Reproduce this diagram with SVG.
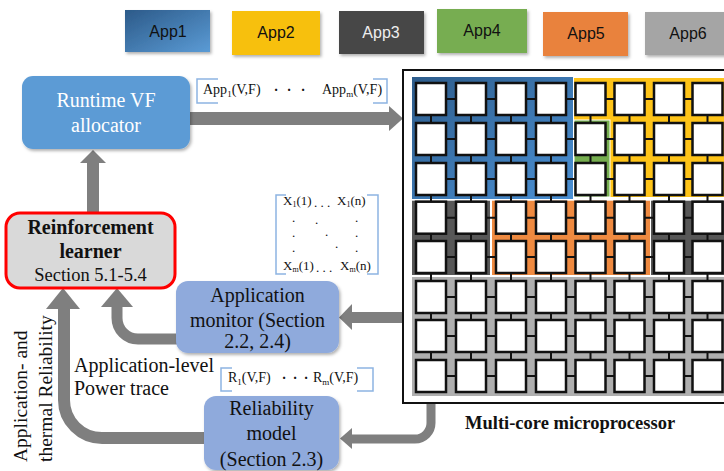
<svg xmlns="http://www.w3.org/2000/svg" xmlns:xlink="http://www.w3.org/1999/xlink" width="724" height="471" viewBox="0 0 724 471">
<style>
.serif{font-family:"Liberation Serif","Times New Roman",serif;}
.sans{font-family:"Liberation Sans",Arial,sans-serif;}
.box20{font-size:20px;text-anchor:middle;}
.lbl{font-size:14px;fill:#111;}
.dot{font-size:14px;fill:#111;font-weight:bold;text-anchor:middle;}
.mx{font-size:13px;fill:#111;}
.brk{fill:none;stroke:#8db4e2;stroke-width:1.5;}
.shaft{fill:none;stroke:#7f7f7f;}
.head{fill:#7f7f7f;}
.leg{font-size:16px;text-anchor:middle;}
</style>
<defs>
<linearGradient id="blue" x1="0" y1="0" x2="1" y2="1">
<stop offset="0" stop-color="#2c5a89"/>
<stop offset="1" stop-color="#5b9bd5"/>
</linearGradient>
<linearGradient id="blue2" x1="0" y1="0" x2="1" y2="1">
<stop offset="0" stop-color="#2e5d8c"/>
<stop offset="1" stop-color="#4a90d4"/>
</linearGradient>
<filter id="sh" x="-10%" y="-10%" width="130%" height="130%">
<feDropShadow dx="1.5" dy="2" stdDeviation="1.5" flood-color="#000" flood-opacity="0.3"/>
</filter>
<rect id="core" width="30" height="32" fill="#fff" stroke="#111" stroke-width="2.5"/>
</defs>

<g id="legend">
<g id="app1"><rect x="125" y="10" width="85" height="42" fill="url(#blue)" filter="url(#sh)"/><text class="sans leg" x="168" y="37" fill="#111">App1</text></g>
<g id="app2"><rect x="232" y="11" width="88" height="44" fill="#f7c010" filter="url(#sh)"/><text class="sans leg" x="276" y="38" fill="#111">App2</text></g>
<g id="app3"><rect x="339" y="11" width="85" height="43" fill="#464646" filter="url(#sh)"/><text class="sans leg" x="381" y="38" fill="#eeeeee">App3</text></g>
<g id="app4"><rect x="437" y="9" width="90" height="44" fill="#77ad51" filter="url(#sh)"/><text class="sans leg" x="482" y="36" fill="#111">App4</text></g>
<g id="app5"><rect x="543" y="12" width="85" height="44" fill="#e9823e" filter="url(#sh)"/><text class="sans leg" x="586" y="39" fill="#111">App5</text></g>
<g id="app6"><rect x="645" y="12" width="90" height="43" fill="#a5a5a5" filter="url(#sh)"/><text class="sans leg" x="688" y="39" fill="#111">App6</text></g>
</g>

<g id="connectors">
<rect x="190" y="112" width="200" height="13" fill="#7f7f7f"/>
<polygon class="head" points="389,106 403,118.5 389,131"/>
<rect x="87" y="162" width="12" height="51" fill="#7f7f7f"/>
<polygon class="head" points="80,163 93,150 106,163"/>
<rect x="351" y="312" width="52" height="11" fill="#7f7f7f"/>
<polygon class="head" points="352,304 339,317.5 352,330"/>
<path class="shaft" stroke-width="11" d="M177 339 H138 A21 21 0 0 1 117 318 V305"/>
<polygon class="head" points="101,307 117,288 133,307"/>
<path class="shaft" stroke-width="12" d="M205 438 H102 A38 38 0 0 1 64 400 V307"/>
<polygon class="head" points="46,309 63,288 80,309"/>
<path class="shaft" stroke-width="9" d="M431 403 V423 A16 16 0 0 1 415 439 H351"/>
<polygon class="head" points="352,428 340,438.5 352,449"/>
</g>

<g id="allocator">
<rect x="22" y="76" width="168" height="73" rx="11" fill="#5b9bd5" filter="url(#sh)"/>
<text class="serif box20" x="106" y="107" fill="#fff">Runtime VF</text>
<text class="serif box20" x="106" y="132" fill="#fff">allocator</text>
</g>

<g id="learner">
<rect x="6" y="213" width="169" height="75" rx="14" fill="#d9d9d9" stroke="#ff0000" stroke-width="3"/>
<text class="serif box20" x="90.5" y="234" font-weight="bold" fill="#111">Reinforcement</text>
<text class="serif box20" x="90.5" y="258" font-weight="bold" fill="#111">learner</text>
<text class="serif" x="90.5" y="281" font-size="18.5" text-anchor="middle" fill="#111">Section 5.1-5.4</text>
</g>

<g id="monitor">
<rect x="176" y="281" width="163" height="72" rx="12" fill="#8faadc" filter="url(#sh)"/>
<text class="serif box20" x="257.5" y="302" fill="#111">Application</text>
<text class="serif box20" x="257.5" y="327" fill="#111">monitor (Section</text>
<text class="serif box20" x="257.5" y="348" fill="#111">2.2, 2.4)</text>
</g>

<g id="reliability">
<rect x="204" y="396" width="135" height="74" rx="12" fill="#8faadc" filter="url(#sh)"/>
<text class="serif box20" x="271.5" y="415" fill="#111">Reliability</text>
<text class="serif box20" x="271.5" y="440" fill="#111">model</text>
<text class="serif box20" x="271.5" y="466" fill="#111">(Section 2.3)</text>
</g>

<g id="labels">
<path class="brk" d="M218 79 H197 V103 H218 M373 79 H387 V103 H373"/>
<text class="serif lbl" x="203" y="94">App<tspan font-size="9" dy="3">1</tspan><tspan dy="-3">(V,F)</tspan></text>
<text class="serif dot" x="276" y="95">·</text>
<text class="serif dot" x="289" y="95">·</text>
<text class="serif dot" x="303" y="95">·</text>
<text class="serif lbl" x="322" y="94">App<tspan font-size="9" dy="3">m</tspan><tspan dy="-3">(V,F)</tspan></text>

<path class="brk" d="M286 195 H276 V274 H286 M367 195 H378 V274 H367"/>
<text class="serif mx" x="283" y="205">X<tspan font-size="8" dy="2">1</tspan><tspan dy="-2">(1)</tspan></text>
<text class="serif mx" x="314" y="207">. . .</text>
<text class="serif mx" x="337" y="205">X<tspan font-size="8" dy="2">1</tspan><tspan dy="-2">(n)</tspan></text>
<text class="serif mx" x="292" y="222">.</text>
<text class="serif mx" x="315" y="224">.</text>
<text class="serif mx" x="355" y="222">.</text>
<text class="serif mx" x="292" y="237">.</text>
<text class="serif mx" x="325" y="236">.</text>
<text class="serif mx" x="355" y="237">.</text>
<text class="serif mx" x="292" y="252">.</text>
<text class="serif mx" x="335" y="248">.</text>
<text class="serif mx" x="355" y="252">.</text>
<text class="serif mx" x="283" y="270">X<tspan font-size="8" dy="2">m</tspan><tspan dy="-2">(1)</tspan></text>
<text class="serif mx" x="316" y="272">. . .</text>
<text class="serif mx" x="340" y="270">X<tspan font-size="8" dy="2">m</tspan><tspan dy="-2">(n)</tspan></text>

<path class="brk" d="M232 368 H221 V391 H232 M357 368 H373 V391 H357"/>
<text class="serif lbl" x="228" y="382">R<tspan font-size="9" dy="3">1</tspan><tspan dy="-3">(V,F)</tspan></text>
<text class="serif dot" x="284" y="383">·</text>
<text class="serif dot" x="295" y="383">·</text>
<text class="serif dot" x="306" y="383">·</text>
<text class="serif lbl" x="313" y="382">R<tspan font-size="9" dy="3">m</tspan><tspan dy="-3">(V,F)</tspan></text>

<text class="serif" x="74" y="372" font-size="20" fill="#111">Application-level</text>
<text class="serif" x="74" y="395" font-size="20" fill="#111">Power trace</text>
<text class="serif" transform="translate(27,462) rotate(-90)" font-size="19.5" fill="#111">Application- and</text>
<text class="serif" transform="translate(52,462) rotate(-90)" font-size="19.5" fill="#111">thermal Reliability</text>
<text class="serif" x="465" y="429" font-size="18.5" font-weight="bold" fill="#111">Multi-core microprocessor</text>
</g>

<g id="chip">
<rect x="403" y="70" width="340" height="333" fill="#fff" stroke="#111" stroke-width="2"/>
<rect x="412" y="77" width="161" height="122" fill="url(#blue2)"/>
<rect x="574" y="78" width="152" height="119" fill="#ffc418"/>
<rect x="574" y="120" width="36" height="77" fill="#76ae4f" stroke="#fff" stroke-width="1"/>
<rect x="412" y="200.7" width="78" height="74.3" fill="#575757"/>
<rect x="492" y="200.7" width="158" height="74.3" fill="#ef8a40"/>
<rect x="651" y="200.7" width="75" height="74.3" fill="#575757"/>
<rect x="412" y="277" width="314" height="119" fill="#afafaf"/>
<path fill="none" stroke="#111" stroke-width="2" d="M430 99 H722 M430 139 H722 M430 179 H722 M430 217.7 H722 M430 257 H722 M430 297 H722 M430 336 H722 M430 376 H722 M431 99 V376 M471 99 V376 M511 99 V376 M551 99 V376 M590.5 99 V376 M629.5 99 V376 M669 99 V376 M707.5 99 V376"/>
<use xlink:href="#core" x="416" y="83"/><use xlink:href="#core" x="456" y="83"/><use xlink:href="#core" x="496" y="83"/><use xlink:href="#core" x="536" y="83"/><use xlink:href="#core" x="575.5" y="83"/><use xlink:href="#core" x="614.5" y="83"/><use xlink:href="#core" x="654" y="83"/><use xlink:href="#core" x="692.5" y="83"/>
<use xlink:href="#core" x="416" y="123"/><use xlink:href="#core" x="456" y="123"/><use xlink:href="#core" x="496" y="123"/><use xlink:href="#core" x="536" y="123"/><use xlink:href="#core" x="575.5" y="123"/><use xlink:href="#core" x="614.5" y="123"/><use xlink:href="#core" x="654" y="123"/><use xlink:href="#core" x="692.5" y="123"/>
<use xlink:href="#core" x="416" y="163"/><use xlink:href="#core" x="456" y="163"/><use xlink:href="#core" x="496" y="163"/><use xlink:href="#core" x="536" y="163"/><use xlink:href="#core" x="575.5" y="163"/><use xlink:href="#core" x="614.5" y="163"/><use xlink:href="#core" x="654" y="163"/><use xlink:href="#core" x="692.5" y="163"/>
<use xlink:href="#core" x="416" y="201.7"/><use xlink:href="#core" x="456" y="201.7"/><use xlink:href="#core" x="496" y="201.7"/><use xlink:href="#core" x="536" y="201.7"/><use xlink:href="#core" x="575.5" y="201.7"/><use xlink:href="#core" x="614.5" y="201.7"/><use xlink:href="#core" x="654" y="201.7"/><use xlink:href="#core" x="692.5" y="201.7"/>
<use xlink:href="#core" x="416" y="241"/><use xlink:href="#core" x="456" y="241"/><use xlink:href="#core" x="496" y="241"/><use xlink:href="#core" x="536" y="241"/><use xlink:href="#core" x="575.5" y="241"/><use xlink:href="#core" x="614.5" y="241"/><use xlink:href="#core" x="654" y="241"/><use xlink:href="#core" x="692.5" y="241"/>
<use xlink:href="#core" x="416" y="281"/><use xlink:href="#core" x="456" y="281"/><use xlink:href="#core" x="496" y="281"/><use xlink:href="#core" x="536" y="281"/><use xlink:href="#core" x="575.5" y="281"/><use xlink:href="#core" x="614.5" y="281"/><use xlink:href="#core" x="654" y="281"/><use xlink:href="#core" x="692.5" y="281"/>
<use xlink:href="#core" x="416" y="320"/><use xlink:href="#core" x="456" y="320"/><use xlink:href="#core" x="496" y="320"/><use xlink:href="#core" x="536" y="320"/><use xlink:href="#core" x="575.5" y="320"/><use xlink:href="#core" x="614.5" y="320"/><use xlink:href="#core" x="654" y="320"/><use xlink:href="#core" x="692.5" y="320"/>
<use xlink:href="#core" x="416" y="360"/><use xlink:href="#core" x="456" y="360"/><use xlink:href="#core" x="496" y="360"/><use xlink:href="#core" x="536" y="360"/><use xlink:href="#core" x="575.5" y="360"/><use xlink:href="#core" x="614.5" y="360"/><use xlink:href="#core" x="654" y="360"/><use xlink:href="#core" x="692.5" y="360"/>
</g>
</svg>
